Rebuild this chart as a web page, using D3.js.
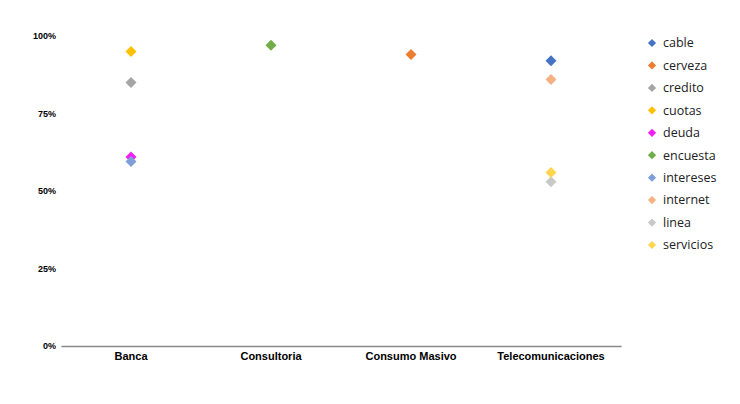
<!DOCTYPE html>
<html><head><meta charset="utf-8">
<script src="https://cdn.jsdelivr.net/npm/d3@7"></script>
<style>body{margin:0;background:#fff}</style>
</head><body>
<svg id="c" width="740" height="404"></svg>
<script>
const categories = ["Banca", "Consultoria", "Consumo Masivo", "Telecomunicaciones"];
const seriesNames = ["cable", "cerveza", "credito", "cuotas", "deuda", "encuesta", "intereses", "internet", "linea", "servicios"];
const seriesCategory = ["Telecomunicaciones", "Consumo Masivo", "Banca", "Banca", "Banca", "Consultoria", "Banca", "Telecomunicaciones", "Telecomunicaciones", "Telecomunicaciones"];
const seriesValues = [0.92, 0.94, 0.85, 0.95, 0.61, 0.97, 0.595, 0.86, 0.53, 0.56];
const seriesColors = ["#4472C4", "#ED7D31", "#A5A5A5", "#FFC000", "#F21FF2", "#70AD47", "#7F9FD8", "#F4B183", "#C9C9C9", "#FFD54F"];
const yTicks = [0, 0.25, 0.5, 0.75, 1];

const svg = d3.select("#c");
const x = d3.scaleBand().domain(categories).range([61, 621]);
const y = d3.scaleLinear().domain([0, 1]).range([346, 36]);

const yAxis = svg.append("g").attr("transform", "translate(56,0)")
  .call(d3.axisLeft(y).tickValues(yTicks).tickFormat(d3.format(".0%")).tickSize(0).tickPadding(0));
yAxis.select(".domain").remove();
yAxis.selectAll("text").attr("font-family", "Liberation Sans, Arial, sans-serif")
  .attr("font-size", 9).attr("font-weight", "bold").attr("fill", "#000");

const xAxis = svg.append("g").attr("transform", "translate(0,346)")
  .call(d3.axisBottom(x).tickSize(0).tickPadding(6));
xAxis.select(".domain").attr("stroke", "#898989").attr("stroke-width", 1.5);
xAxis.selectAll("text").attr("font-family", "Liberation Sans, Arial, sans-serif")
  .attr("font-size", 11).attr("font-weight", "bold").attr("fill", "#000");

const diamond = d3.symbol().type(d3.symbolSquare).size(60);
seriesNames.forEach((n, i) => {
  svg.append("path").attr("d", diamond)
    .attr("transform", `translate(${x(seriesCategory[i]) + x.bandwidth() / 2},${y(seriesValues[i])}) rotate(45)`)
    .attr("fill", seriesColors[i]);
});

const legendY = d3.scalePoint().domain(seriesNames).range([43, 245]);
const small = d3.symbol().type(d3.symbolSquare).size(34);
const lg = svg.append("g");
seriesNames.forEach((n, i) => {
  lg.append("path").attr("d", small)
    .attr("transform", `translate(652,${legendY(n)}) rotate(45)`).attr("fill", seriesColors[i]);
  lg.append("text").attr("x", 663).attr("y", legendY(n)).attr("dy", "0.35em")
    .attr("font-family", "Open Sans, Noto Sans, sans-serif").attr("font-size", 12.5)
    .attr("fill", "#222").text(n);
});
</script>
</body></html>
